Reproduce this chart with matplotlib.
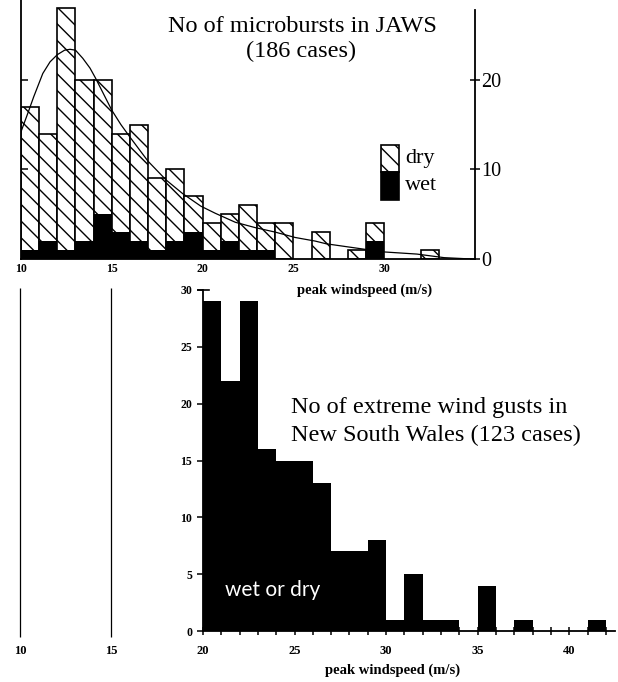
import matplotlib
matplotlib.use('Agg')
import matplotlib.pyplot as plt
from matplotlib.patches import Rectangle

plt.rcParams['font.family'] = ['Liberation Serif', 'DejaVu Serif']
plt.rcParams['hatch.linewidth'] = 1.0

# JAWS microbursts, 1 m/s bins (left edges), total and wet counts
jaws_left = [10, 11, 12, 13, 14, 15, 16, 17, 18, 19, 20, 21, 22, 23, 24, 26, 28, 29, 32]
jaws_total = [17, 14, 28, 20, 20, 14, 15, 9, 10, 7, 4, 5, 6, 4, 4, 3, 1, 4, 1]
jaws_wet = [1, 2, 1, 2, 5, 3, 2, 1, 2, 3, 1, 2, 1, 1, 0, 0, 0, 2, 0]

# fitted curve, points
curve_x = [10.0, 10.4, 10.7, 11.2, 11.6, 12.0, 12.4, 12.7, 13.0, 13.4, 13.8, 14.1, 14.5, 15.0,
           15.5, 16.0, 17.0, 18.0, 18.9, 19.9, 20.7, 21.8, 22.9, 24.0, 25.1, 26.2, 26.8,
           28.7, 29.9, 31.8, 33.3, 34.8]
curve_y = [14.2, 16.4, 18.1, 20.7, 22.0, 22.8, 23.3, 23.4, 23.3, 22.4, 21.3, 20.2, 18.6, 16.6,
           15.0, 13.6, 10.9, 8.8, 7.3, 5.9, 5.1, 4.1, 3.5, 3.0, 2.4, 2.0, 1.7,
           1.15, 0.8, 0.55, 0.15, 0.0]

# New South Wales extreme gusts, 1 m/s bins
nsw_left = list(range(20, 42))
nsw_count = [29, 22, 29, 16, 15, 15, 13, 7, 7, 8, 1, 5, 1, 1, 0, 4, 0, 1, 0, 0, 0, 1]

top_ticks = [10, 15, 20, 25, 30]
bottom_ticks = [20, 25, 30, 35, 40]
ref_lines = [10, 15]

W, H = 618, 682
fig = plt.figure(figsize=(W / 100, H / 100), dpi=100)


def box(l, t, r, b):
    return [l / W, 1 - b / H, (r - l) / W, (b - t) / H]


def fpos(x, y):
    return x / W, 1 - y / H


# ---- top panel: JAWS ----
ax1 = fig.add_axes(box(21, 0, 475, 259))
ax1.bar(jaws_left, jaws_total, width=1, align='edge', facecolor='white',
        edgecolor='black', hatch='\\\\', linewidth=1.2)
ax1.bar(jaws_left, jaws_wet, width=1, align='edge', color='black', linewidth=0)
ax1.plot(curve_x, curve_y, color='black', lw=0.9)
ax1.set_xlim(10, 35)
ax1.set_ylim(0, 28.9)
for s in ['top', 'right']:
    ax1.spines[s].set_visible(False)
for s in ['left', 'bottom']:
    ax1.spines[s].set_linewidth(1.3)
ax1.set_xticks(top_ticks)
ax1.tick_params(axis='x', length=0, pad=3.2, labelsize=8.5)
for t in ax1.get_xticklabels():
    t.set_fontweight('bold')
ax1.set_yticks([10, 20])
ax1.tick_params(axis='y', direction='in', length=5, labelleft=False, width=1.1)

ax1r = ax1.twinx()
ax1r.set_ylim(0, 28.9)
for s in ['top', 'left', 'bottom']:
    ax1r.spines[s].set_visible(False)
ax1r.spines['right'].set_bounds(0, 27.8)
ax1r.spines['right'].set_linewidth(1.3)
ax1r.set_yticks([0, 10, 20])
ax1r.tick_params(axis='y', direction='inout', length=7, width=1.1, pad=1, labelsize=14.5)

# legend boxes
ax1.add_patch(Rectangle((0.793, 0.336), 0.0396, 0.104, transform=ax1.transAxes,
                        facecolor='white', edgecolor='black', hatch='\\\\', lw=1.2))
ax1.add_patch(Rectangle((0.793, 0.228), 0.0396, 0.108, transform=ax1.transAxes,
                        facecolor='black', edgecolor='black', lw=1.2))
fig.text(*fpos(405, 158), 'dry', fontsize=16, va='center', ha='left')
fig.text(*fpos(405, 186), 'wet', fontsize=16, va='center', ha='left')

fig.text(*fpos(302, 32), 'No of microbursts in JAWS', fontsize=17.5, ha='center', va='baseline')
fig.text(*fpos(301, 57), '(186 cases)', fontsize=17.5, ha='center', va='baseline')
fig.text(*fpos(365, 290), 'peak windspeed (m/s)', fontsize=10.5, fontweight='bold',
         ha='center', va='center')

# ---- bottom panel: New South Wales ----
ax2 = fig.add_axes(box(203, 290, 615, 631))
ax2.bar(nsw_left, nsw_count, width=1, align='edge', color='black', linewidth=0)
ax2.set_xlim(20, 42.5)
ax2.set_ylim(0, 30)
for s in ['top', 'right']:
    ax2.spines[s].set_visible(False)
for s in ['left', 'bottom']:
    ax2.spines[s].set_linewidth(1.3)
ax2.set_xticks(bottom_ticks)
ax2.set_xticks(range(20, 43), minor=True)
ax2.tick_params(axis='x', which='both', direction='inout', length=6, width=1.1,
                pad=7.4, labelsize=9)
for t in ax2.get_xticklabels():
    t.set_fontweight('bold')
ax2.set_yticks(range(0, 31, 5))
ax2.tick_params(axis='y', direction='out', length=4, width=1.1, pad=3.9, labelsize=8.5)
for t in ax2.get_yticklabels():
    t.set_fontweight('bold')
ax2.plot([19.7, 20.35], [30, 30], color='black', lw=1.2, clip_on=False)

# reference lines at 10 and 15 m/s continued from the top panel
ax2.vlines(ref_lines, -0.5, 30.2, color='black', lw=0.9, clip_on=False)
for v in ref_lines:
    ax2.text(v, -0.058, str(v), transform=ax2.get_xaxis_transform(), ha='center',
             va='center', fontsize=9, fontweight='bold', clip_on=False)

fig.text(*fpos(291, 413), 'No of extreme wind gusts in', fontsize=17.5, ha='left', va='baseline')
fig.text(*fpos(291, 441), 'New South Wales (123 cases)', fontsize=17.5, ha='left', va='baseline')
fig.text(*fpos(225, 590), 'wet or dry', fontsize=15, color='white', family=['Lato', 'DejaVu Sans'],
         ha='left', va='center')
fig.text(*fpos(393, 670), 'peak windspeed (m/s)', fontsize=10.5, fontweight='bold',
         ha='center', va='center')

fig.savefig('out.png', dpi=100, facecolor='white')
